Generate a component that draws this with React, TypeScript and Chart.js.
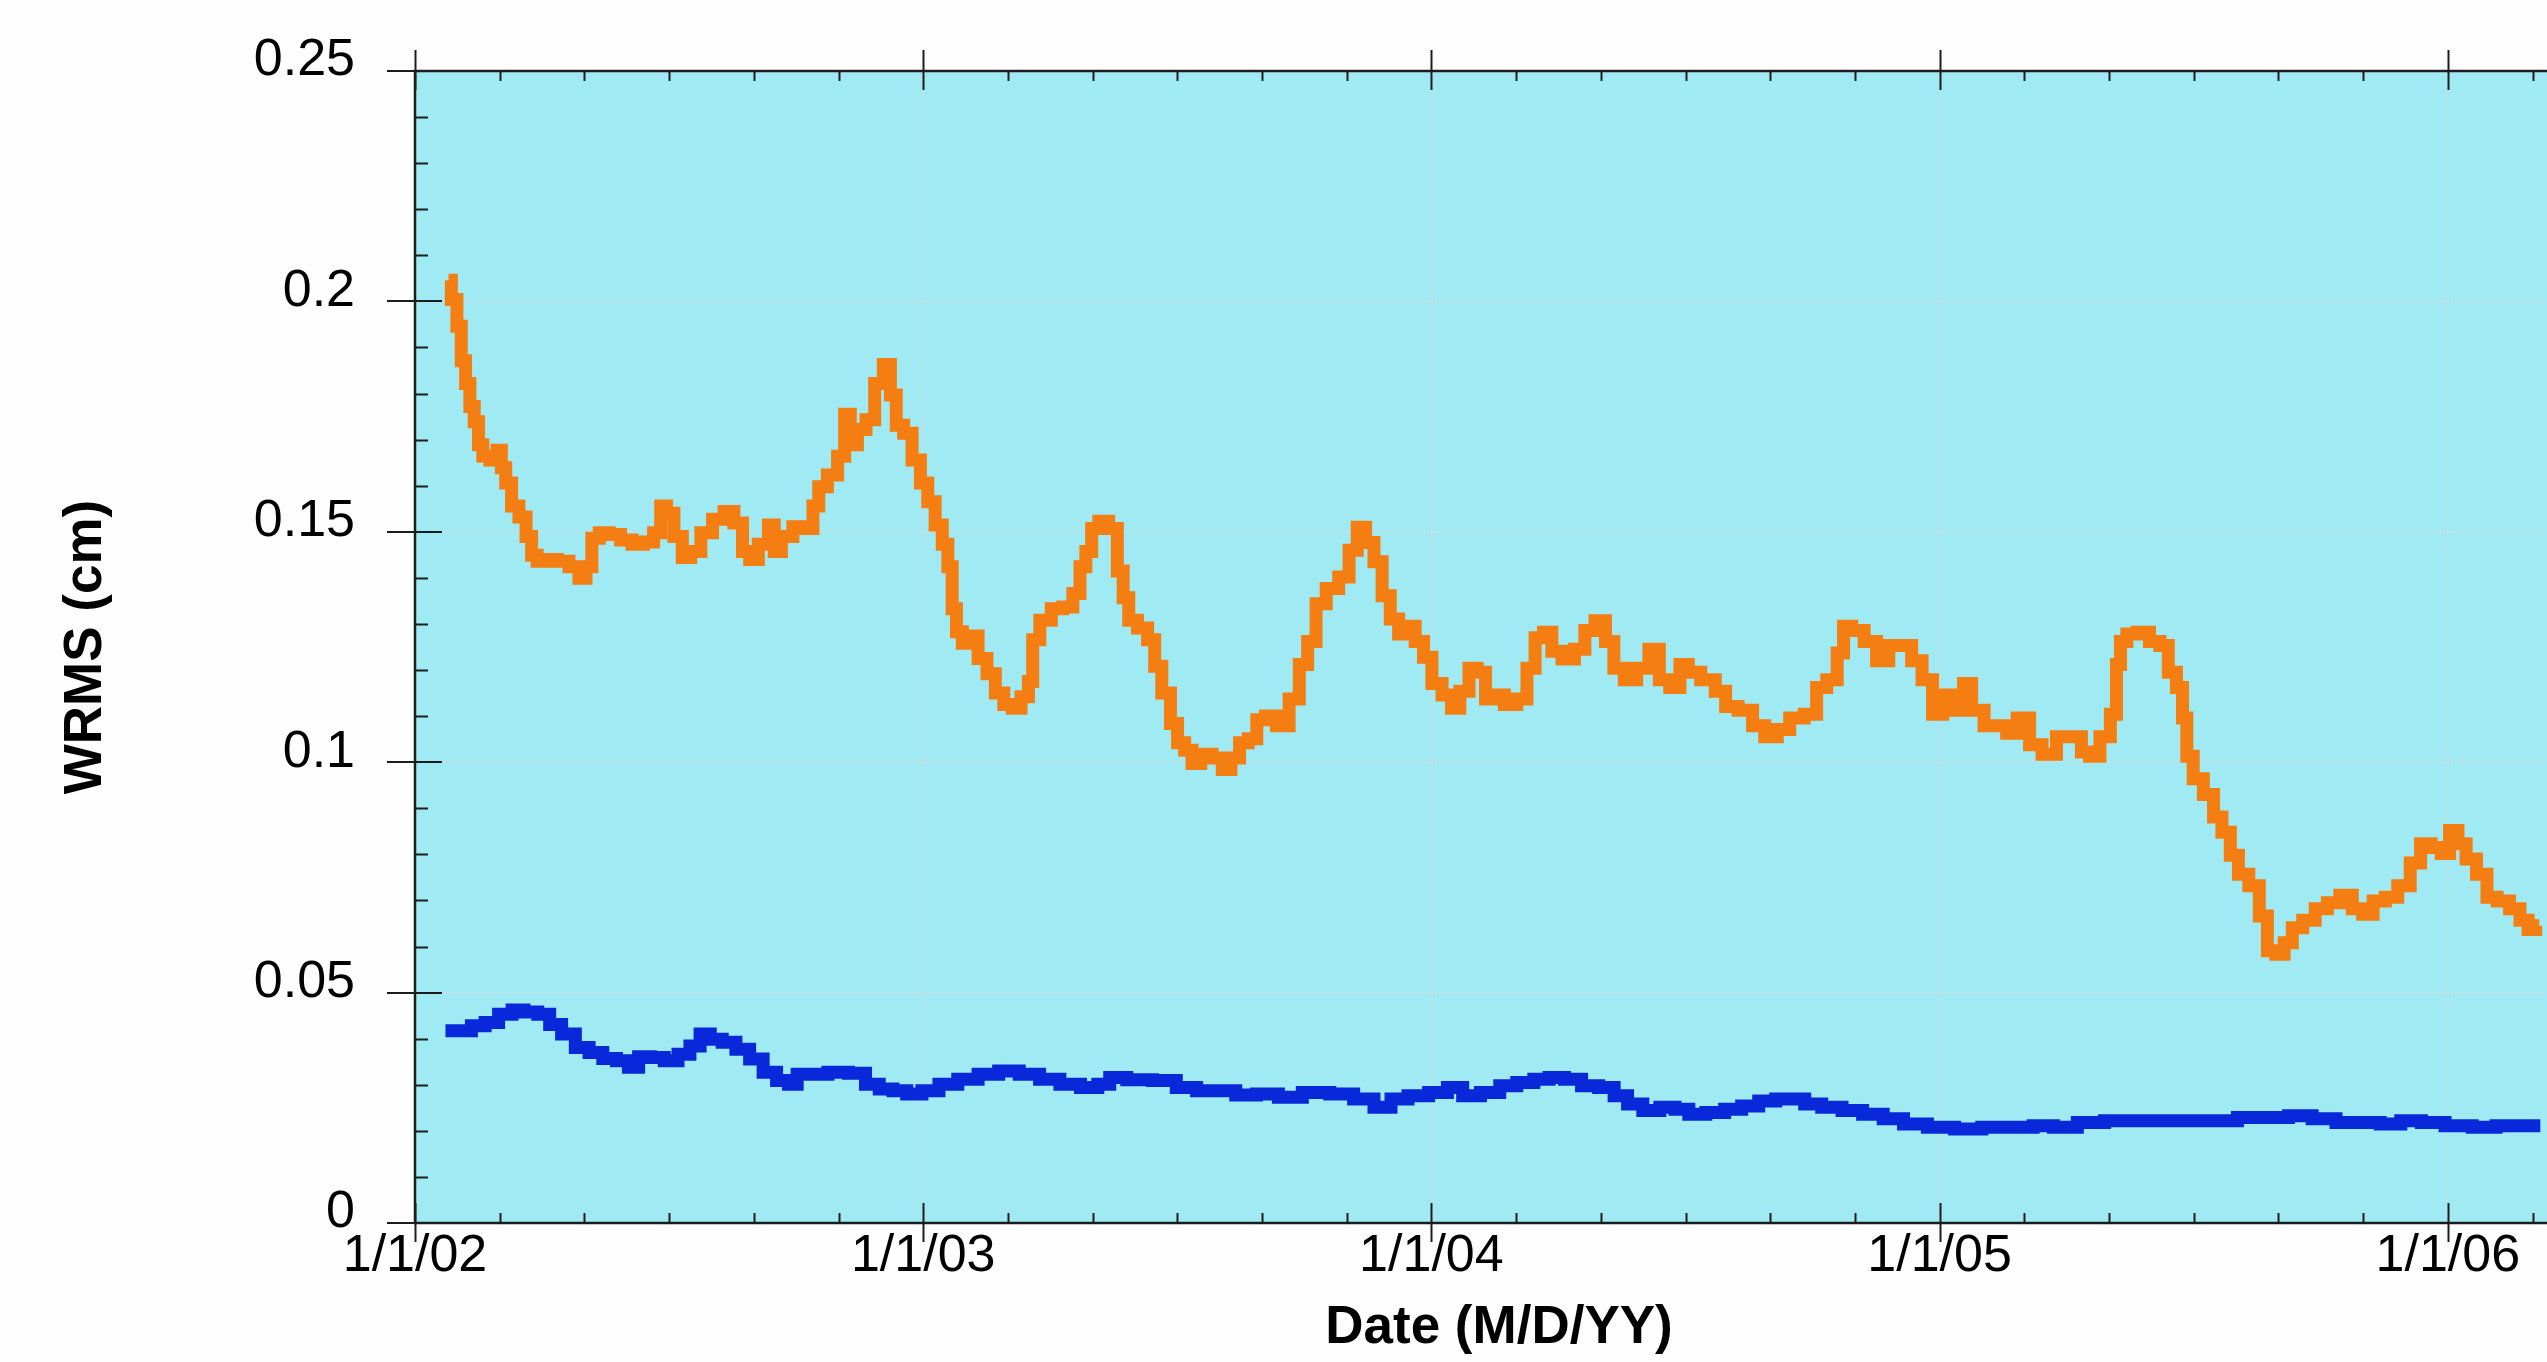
import React, { useEffect, useRef } from "react";
import { Chart, registerables } from "chart.js";

Chart.register(...registerables);

// ---- data (decimal years, WRMS in cm) ----
const orangeDates = [
  2002.066, 2002.077, 2002.088, 2002.094, 2002.105, 2002.111, 2002.122, 2002.128, 2002.139, 2002.156,
  2002.167, 2002.173, 2002.184, 2002.196, 2002.213, 2002.224, 2002.235, 2002.246, 2002.269, 2002.292,
  2002.314, 2002.331, 2002.342, 2002.354, 2002.371, 2002.393, 2002.416, 2002.438, 2002.461, 2002.478,
  2002.489, 2002.501, 2002.518, 2002.534, 2002.551, 2002.574, 2002.597, 2002.619, 2002.636, 2002.653,
  2002.664, 2002.687, 2002.704, 2002.710, 2002.732, 2002.755, 2002.777, 2002.789, 2002.800, 2002.823,
  2002.840, 2002.851, 2002.862, 2002.879, 2002.896, 2002.913, 2002.930, 2002.941, 2002.953, 2002.970,
  2002.986, 2003.003, 2003.015, 2003.032, 2003.043, 2003.054, 2003.060, 2003.071, 2003.083, 2003.099,
  2003.117, 2003.134, 2003.150, 2003.167, 2003.184, 2003.201, 2003.213, 2003.218, 2003.241, 2003.263,
  2003.286, 2003.303, 2003.314, 2003.326, 2003.337, 2003.354, 2003.376, 2003.388, 2003.399, 2003.410,
  2003.433, 2003.450, 2003.461, 2003.478, 2003.495, 2003.506, 2003.523, 2003.535, 2003.557, 2003.580,
  2003.597, 2003.614, 2003.631, 2003.648, 2003.665, 2003.682, 2003.708, 2003.732, 2003.748, 2003.765,
  2003.781, 2003.805, 2003.830, 2003.846, 2003.862, 2003.879, 2003.895, 2003.911, 2003.927, 2003.944,
  2003.960, 2003.976, 2003.993, 2004.009, 2004.033, 2004.046, 2004.066, 2004.082, 2004.098, 2004.115,
  2004.131, 2004.156, 2004.180, 2004.196, 2004.212, 2004.229, 2004.245, 2004.269, 2004.294, 2004.310,
  2004.334, 2004.351, 2004.367, 2004.392, 2004.416, 2004.440, 2004.457, 2004.481, 2004.497, 2004.514,
  2004.546, 2004.571, 2004.587, 2004.620, 2004.644, 2004.668, 2004.693, 2004.717, 2004.750, 2004.766,
  2004.790, 2004.807, 2004.815, 2004.839, 2004.864, 2004.888, 2004.912, 2004.937, 2004.953, 2004.978,
  2004.994, 2005.018, 2005.043, 2005.051, 2005.075, 2005.100, 2005.124, 2005.140, 2005.165, 2005.189,
  2005.214, 2005.246, 2005.271, 2005.287, 2005.303, 2005.328, 2005.344, 2005.352, 2005.360, 2005.377,
  2005.401, 2005.425, 2005.442, 2005.458, 2005.474, 2005.482, 2005.491, 2005.507, 2005.531, 2005.547,
  2005.564, 2005.580, 2005.596, 2005.621, 2005.637, 2005.653, 2005.670, 2005.686, 2005.702, 2005.727,
  2005.751, 2005.775, 2005.800, 2005.824, 2005.841, 2005.865, 2005.889, 2005.914, 2005.938, 2005.955,
  2005.979, 2005.995, 2006.012, 2006.028, 2006.044, 2006.069, 2006.085, 2006.109, 2006.134, 2006.150,
  2006.166, 2006.180,
];
const orangeValues = [
  0.2046, 0.2004, 0.1946, 0.1871, 0.1822, 0.1772, 0.1739, 0.1689, 0.1664, 0.1656,
  0.1677, 0.1639, 0.1606, 0.1556, 0.1532, 0.1490, 0.1449, 0.1436, 0.1440, 0.1436,
  0.1424, 0.1399, 0.1424, 0.1486, 0.1498, 0.1494, 0.1482, 0.1473, 0.1478, 0.1498,
  0.1556, 0.1540, 0.1490, 0.1444, 0.1457, 0.1498, 0.1527, 0.1544, 0.1519, 0.1457,
  0.1440, 0.1473, 0.1515, 0.1457, 0.1490, 0.1511, 0.1507, 0.1556, 0.1598, 0.1623,
  0.1664, 0.1755, 0.1689, 0.1722, 0.1743, 0.1822, 0.1863, 0.1797, 0.1731, 0.1714,
  0.1656, 0.1606, 0.1565, 0.1515, 0.1473, 0.1424, 0.1333, 0.1283, 0.1258, 0.1274,
  0.1225, 0.1192, 0.1150, 0.1125, 0.1117, 0.1142, 0.1175, 0.1266, 0.1308, 0.1333,
  0.1337, 0.1366, 0.1424, 0.1457, 0.1507, 0.1523, 0.1507, 0.1415, 0.1357, 0.1308,
  0.1291, 0.1266, 0.1208, 0.1150, 0.1084, 0.1042, 0.1026, 0.0997, 0.1017, 0.1009,
  0.0984, 0.1009, 0.1042, 0.1051, 0.1092, 0.1100, 0.1079, 0.1137, 0.1212, 0.1262,
  0.1344, 0.1377, 0.1402, 0.1460, 0.1510, 0.1477, 0.1435, 0.1361, 0.1311, 0.1278,
  0.1295, 0.1262, 0.1228, 0.1171, 0.1146, 0.1117, 0.1154, 0.1204, 0.1195, 0.1137,
  0.1146, 0.1125, 0.1137, 0.1204, 0.1270, 0.1282, 0.1241, 0.1224, 0.1245, 0.1286,
  0.1307, 0.1262, 0.1204, 0.1179, 0.1204, 0.1245, 0.1179, 0.1162, 0.1212, 0.1195,
  0.1179, 0.1154, 0.1121, 0.1113, 0.1079, 0.1055, 0.1071, 0.1096, 0.1104, 0.1162,
  0.1179, 0.1237, 0.1295, 0.1286, 0.1262, 0.1220, 0.1253, 0.1253, 0.1220, 0.1179,
  0.1104, 0.1146, 0.1113, 0.1171, 0.1113, 0.1079, 0.1079, 0.1063, 0.1096, 0.1038,
  0.1017, 0.1055, 0.1055, 0.1022, 0.1013, 0.1055, 0.1104, 0.1212, 0.1262, 0.1278,
  0.1282, 0.1262, 0.1253, 0.1195, 0.1162, 0.1096, 0.1013, 0.0964, 0.0930, 0.0881,
  0.0848, 0.0798, 0.0757, 0.0732, 0.0666, 0.0591, 0.0583, 0.0608, 0.0641, 0.0657,
  0.0682, 0.0695, 0.0711, 0.0682, 0.0670, 0.0699, 0.0707, 0.0732, 0.0781, 0.0823,
  0.0815, 0.0802, 0.0852, 0.0823, 0.0790, 0.0757, 0.0707, 0.0699, 0.0682, 0.0657,
  0.0637, 0.0645,
];

const blueDates = [
  2002.060, 2002.094, 2002.128, 2002.148, 2002.181, 2002.201, 2002.228, 2002.255, 2002.275, 2002.302,
  2002.329, 2002.356, 2002.383, 2002.410, 2002.430, 2002.450, 2002.477, 2002.504, 2002.531, 2002.551,
  2002.571, 2002.591, 2002.618, 2002.645, 2002.672, 2002.698, 2002.725, 2002.745, 2002.759, 2002.792,
  2002.833, 2002.873, 2002.900, 2002.927, 2002.954, 2002.981, 2003.014, 2003.048, 2003.088, 2003.128,
  2003.169, 2003.209, 2003.249, 2003.289, 2003.330, 2003.357, 2003.377, 2003.424, 2003.478, 2003.518,
  2003.558, 2003.598, 2003.632, 2003.679, 2003.719, 2003.773, 2003.827, 2003.867, 2003.907, 2003.934,
  2003.974, 2004.015, 2004.048, 2004.075, 2004.118, 2004.151, 2004.185, 2004.218, 2004.245, 2004.279,
  2004.312, 2004.346, 2004.373, 2004.399, 2004.433, 2004.466, 2004.493, 2004.520, 2004.560, 2004.594,
  2004.627, 2004.661, 2004.694, 2004.721, 2004.748, 2004.788, 2004.828, 2004.869, 2004.909, 2004.949,
  2005.003, 2005.056, 2005.110, 2005.164, 2005.204, 2005.244, 2005.298, 2005.351, 2005.405, 2005.458,
  2005.512, 2005.566, 2005.606, 2005.660, 2005.713, 2005.753, 2005.807, 2005.847, 2005.887, 2005.928,
  2005.968, 2006.021, 2006.075, 2006.115, 2006.182,
];
const blueValues = [
  0.0417, 0.0417, 0.0428, 0.0435, 0.0453, 0.0462, 0.0458, 0.0453, 0.0431, 0.0410,
  0.0381, 0.0370, 0.0357, 0.0352, 0.0338, 0.0361, 0.0359, 0.0352, 0.0366, 0.0384,
  0.0410, 0.0399, 0.0392, 0.0377, 0.0356, 0.0327, 0.0309, 0.0301, 0.0323, 0.0323,
  0.0327, 0.0325, 0.0301, 0.0291, 0.0287, 0.0280, 0.0287, 0.0301, 0.0312, 0.0323,
  0.0330, 0.0323, 0.0312, 0.0301, 0.0294, 0.0301, 0.0316, 0.0311, 0.0309, 0.0294,
  0.0287, 0.0287, 0.0278, 0.0280, 0.0273, 0.0283, 0.0280, 0.0269, 0.0251, 0.0269,
  0.0276, 0.0283, 0.0294, 0.0276, 0.0283, 0.0298, 0.0305, 0.0312, 0.0316, 0.0312,
  0.0298, 0.0294, 0.0276, 0.0258, 0.0244, 0.0251, 0.0247, 0.0236, 0.0240, 0.0247,
  0.0254, 0.0265, 0.0269, 0.0269, 0.0258, 0.0251, 0.0244, 0.0236, 0.0226, 0.0215,
  0.0208, 0.0204, 0.0208, 0.0208, 0.0211, 0.0208, 0.0218, 0.0222, 0.0222, 0.0222,
  0.0222, 0.0222, 0.0229, 0.0229, 0.0233, 0.0226, 0.0218, 0.0218, 0.0215, 0.0222,
  0.0218, 0.0211, 0.0208, 0.0211, 0.0211,
];

const xTickYears = [2002, 2003, 2004, 2005, 2006];
const xTickLabels = ["1/1/02", "1/1/03", "1/1/04", "1/1/05", "1/1/06"];
const yTickValues = [0, 0.05, 0.1, 0.15, 0.2, 0.25];
const yTickLabels = ["0", "0.05", "0.1", "0.15", "0.2", "0.25"];
const xAxisTitle = "Date (M/D/YY)";
const yAxisTitle = "WRMS (cm)";
const X_MIN = 2002;
const X_MAX = 2006.266;
const Y_MIN = 0;
const Y_MAX = 0.25;

const FONT = "'Liberation Sans', Arial, Helvetica, sans-serif";

const frameAndTicksPlugin = {
  id: "frameAndTicks",
  beforeDraw(chart: any) {
    const { ctx, chartArea } = chart;
    ctx.save();
    ctx.fillStyle = "#A0EBF3";
    ctx.fillRect(chartArea.left, chartArea.top, chartArea.right - chartArea.left, chartArea.bottom - chartArea.top);
    ctx.restore();
  },
  afterDraw(chart: any) {
    const { ctx, chartArea } = chart;
    const { left, right, top, bottom } = chartArea;
    const xs = chart.scales.x;
    const ys = chart.scales.y;
    const line = (x1: number, y1: number, x2: number, y2: number) => {
      ctx.beginPath();
      ctx.moveTo(x1, y1);
      ctx.lineTo(x2, y2);
      ctx.stroke();
    };
    ctx.save();
    ctx.strokeStyle = "#1c1c1c";
    ctx.lineWidth = 2;
    // minor x ticks every two months
    for (let i = 0; ; i++) {
      const v = X_MIN + i / 6;
      if (v > X_MAX) break;
      if (i % 6 === 0) continue;
      const px = Math.round(xs.getPixelForValue(v)) + 0.5;
      line(px, bottom, px, bottom - 10);
      line(px, top, px, top + 10);
    }
    // minor y ticks every 0.01
    for (let i = 0; i <= 25; i++) {
      if (i % 5 === 0) continue;
      const py = Math.round(ys.getPixelForValue(i / 100)) + 0.5;
      line(left, py, left + 13, py);
      line(right, py, right - 13, py);
    }
    // major ticks
    xTickYears.forEach((v) => {
      const px = Math.round(xs.getPixelForValue(v)) + 0.5;
      line(px, bottom - 20, px, bottom + 19);
      line(px, top - 21, px, top + 19);
    });
    yTickValues.forEach((v) => {
      const py = Math.round(ys.getPixelForValue(v));
      line(left - 28, py, left + 27, py);
      line(right - 27, py, right + 28, py);
    });
    // frame
    ctx.lineWidth = 2.5;
    ctx.strokeRect(left, top, right - left, bottom - top);
    ctx.restore();
  },
};

export default function App() {
  const canvasRef = useRef<HTMLCanvasElement | null>(null);

  useEffect(() => {
    const canvas = canvasRef.current;
    if (!canvas) return;
    const chart = new Chart(canvas, {
      type: "line",
      data: {
        datasets: [
          {
            label: "WRMS (orange)",
            data: orangeDates.map((d, i) => ({ x: d, y: orangeValues[i] })),
            borderColor: "#F57E12",
            backgroundColor: "#F57E12",
            borderWidth: 13,
            pointRadius: 0,
            tension: 0,
            stepped: "middle",
            borderJoinStyle: "miter",
            borderCapStyle: "butt",
            fill: false,
          },
          {
            label: "WRMS (blue)",
            data: blueDates.map((d, i) => ({ x: d, y: blueValues[i] })),
            borderColor: "#0828DA",
            backgroundColor: "#0828DA",
            borderWidth: 13,
            pointRadius: 0,
            tension: 0,
            stepped: "middle",
            borderJoinStyle: "miter",
            borderCapStyle: "butt",
            fill: false,
          },
        ],
      },
      options: {
        responsive: false,
        devicePixelRatio: 1,
        animation: false,
        events: [],
        layout: { padding: { top: 71, right: 17, bottom: 0, left: 0 } },
        plugins: {
          legend: { display: false },
          tooltip: { enabled: false },
          title: { display: false },
        },
        scales: {
          x: {
            type: "linear",
            min: X_MIN,
            max: X_MAX,
            afterBuildTicks: (scale: any) => {
              scale.ticks = xTickYears.map((v) => ({ value: v }));
            },
            afterFit: (scale: any) => {
              scale.height = 139;
              scale.paddingLeft = 0;
              scale.paddingRight = 0;
            },
            grid: {
              display: true,
              drawTicks: false,
              color: "#d9d9d9",
              lineWidth: 1.5,
            },
            border: { display: false, dash: [2, 2] },
            ticks: {
              autoSkip: false,
              maxRotation: 0,
              minRotation: 0,
              padding: 2,
              color: "#000",
              font: { family: FONT, size: 52 },
              callback: (value: any) => {
                const i = xTickYears.indexOf(Number(value));
                return i >= 0 ? xTickLabels[i] : "";
              },
            },
            title: {
              display: true,
              text: xAxisTitle,
              color: "#000",
              font: { family: FONT, size: 53, weight: "bold" },
              padding: { top: 0, bottom: 2 },
            },
          },
          y: {
            type: "linear",
            min: Y_MIN,
            max: Y_MAX,
            afterBuildTicks: (scale: any) => {
              scale.ticks = yTickValues.map((v) => ({ value: v }));
            },
            afterFit: (scale: any) => {
              scale.width = 415;
              scale.paddingTop = 0;
              scale.paddingBottom = 0;
            },
            grid: {
              display: true,
              drawTicks: false,
              color: "#d9d9d9",
              lineWidth: 1.5,
            },
            border: { display: false, dash: [2, 2] },
            ticks: {
              padding: 60,
              labelOffset: -10,
              color: "#000",
              font: { family: FONT, size: 52 },
              callback: (value: any) => {
                const i = yTickValues.indexOf(Number(value));
                return i >= 0 ? yTickLabels[i] : "";
              },
            },
            title: {
              display: true,
              text: yAxisTitle,
              color: "#000",
              font: { family: FONT, size: 53, weight: "bold" },
              padding: { top: 55, bottom: 0 },
            },
          },
        },
      },
      plugins: [frameAndTicksPlugin],
    } as any);
    return () => {
      chart.destroy();
    };
  }, []);

  return (
    <div
      style={{
        position: "fixed",
        left: 0,
        top: 0,
        width: 2547,
        height: 1362,
        overflow: "hidden",
        background: "#FDFDFD",
      }}
    >
      <canvas
        ref={canvasRef}
        width={2600}
        height={1362}
        style={{ display: "block", width: 2600, height: 1362 }}
      />
    </div>
  );
}
